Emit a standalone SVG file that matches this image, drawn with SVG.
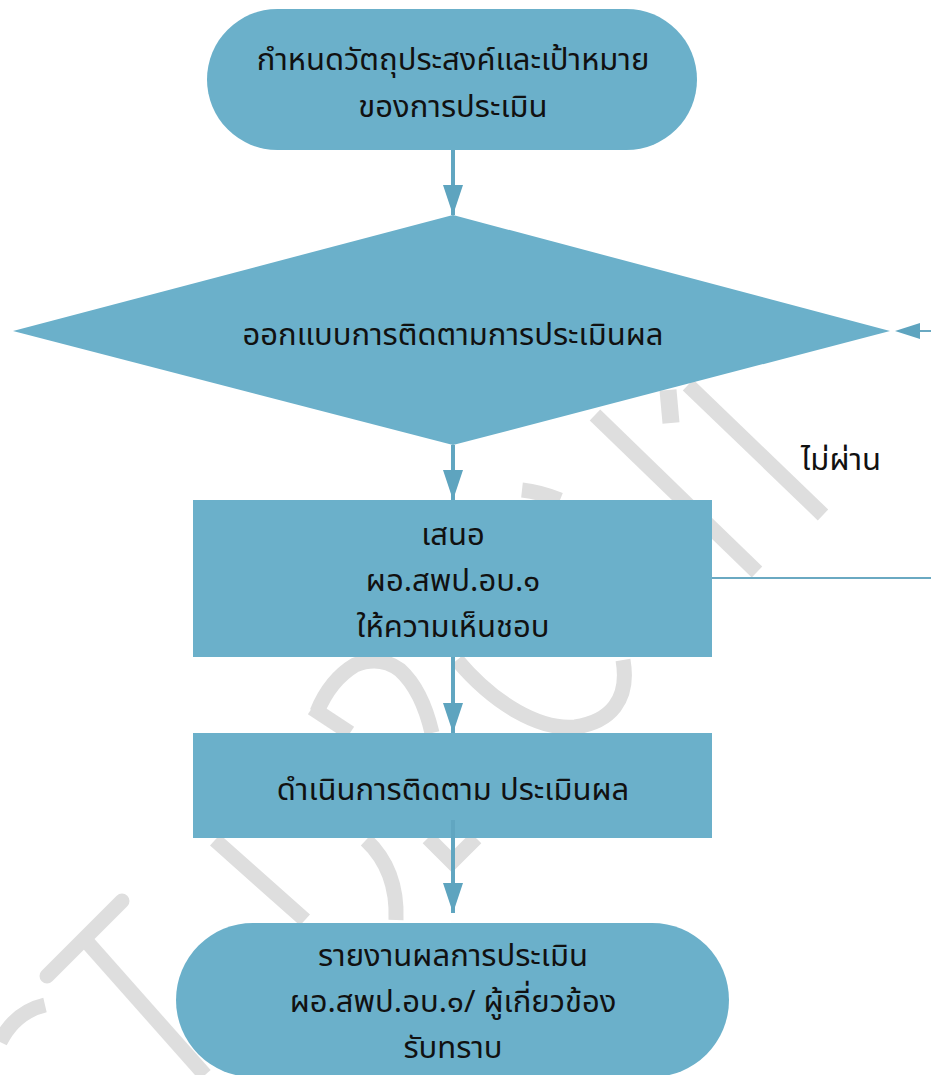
<svg xmlns="http://www.w3.org/2000/svg" width="931" height="1075" viewBox="0 0 931 1075">
<style>
.wm{fill:none;stroke:#dedede;stroke-width:15;stroke-linecap:butt;stroke-linejoin:miter}
.node{fill:#6bb0ca}
.t{font-family:"Noto Sans Thai","Noto Sans",sans-serif;font-size:31px;fill:#111;text-anchor:middle}
.conn{stroke:#61a6c1;stroke-width:4;fill:none}
.thin{stroke:#6aa9c2;stroke-width:2;fill:none}
</style>
<defs>
<marker id="ah" markerUnits="userSpaceOnUse" markerWidth="30" markerHeight="20" refX="30" refY="10" orient="auto">
<path d="M0,0 L30,10 L0,20 Z" fill="#5ea4bf"/>
</marker>
</defs>
<rect width="931" height="1075" fill="#fff"/>
<g id="watermark">
<path class="wm" d="M688,385 L823,515"/>
<path class="wm" d="M668,390 L671,423" style="stroke-width:17"/>
<path class="wm" d="M595,415 L757,572"/>
<path class="wm" d="M522,490 Q540,492 560,500"/>
<path class="wm" d="M317,712 Q330,680 355,665 Q380,655 400,670 Q422,690 432,733"/>
<path class="wm" d="M312,708 L350,733"/>
<path class="wm" d="M457,660 C495,705 540,730 575,727 C610,722 630,700 623,660"/>
<path class="wm" d="M215,840 L305,920"/>
<path class="wm" d="M366,840 Q398,870 396,920"/>
<path class="wm" d="M428,838 L452,862 L476,838"/>
<path class="wm" d="M47,976 L122,901" style="stroke-linecap:round"/>
<path class="wm" d="M88,943 L205,1075"/>
<path class="wm" d="M45,1005 Q15,1012 0,1042"/>
</g>
<g id="connectors">
<line class="conn" x1="453" y1="150" x2="453" y2="215" marker-end="url(#ah)"/>
<line class="conn" x1="453" y1="445" x2="453" y2="500" marker-end="url(#ah)"/>
<line class="conn" x1="453" y1="657" x2="453" y2="733" marker-end="url(#ah)"/>
<line class="conn" x1="453" y1="820" x2="453" y2="913" marker-end="url(#ah)"/>
<line class="thin" x1="712" y1="578" x2="931" y2="578"/>
<line class="thin" x1="931" y1="331" x2="905" y2="331"/>
<path d="M895,331 L920,323 L920,339 Z" fill="#5ea4bf"/>
<text class="t" x="841" y="470">ไม่ผ่าน</text>
</g>
<g id="start">
<rect class="node" x="207" y="9" width="490" height="141" rx="70.5"/>
<text class="t" x="453" y="70">กำหนดวัตถุประสงค์และเป้าหมาย</text>
<text class="t" x="453" y="117">ของการประเมิน</text>
</g>
<g id="design">
<polygon class="node" points="453,215 890,331 453,445 13,331"/>
<text class="t" x="453" y="345">ออกแบบการติดตามการประเมินผล</text>
</g>
<g id="approve">
<rect class="node" x="193" y="500" width="519" height="157"/>
<text class="t" x="453" y="545">เสนอ</text>
<text class="t" x="453" y="591">ผอ.สพป.อบ.๑</text>
<text class="t" x="453" y="637">ให้ความเห็นชอบ</text>
</g>
<g id="execute">
<rect class="node" x="193" y="733" width="519" height="105"/>
<text class="t" x="453" y="800">ดำเนินการติดตาม ประเมินผล</text>
</g>
<g id="report">
<rect class="node" x="176" y="923" width="553" height="154" rx="77"/>
<text class="t" x="453" y="966">รายงานผลการประเมิน</text>
<text class="t" x="453" y="1012">ผอ.สพป.อบ.๑/ ผู้เกี่ยวข้อง</text>
<text class="t" x="453" y="1058">รับทราบ</text>
</g>
<line class="conn" x1="453" y1="820" x2="453" y2="838"/>
</svg>
